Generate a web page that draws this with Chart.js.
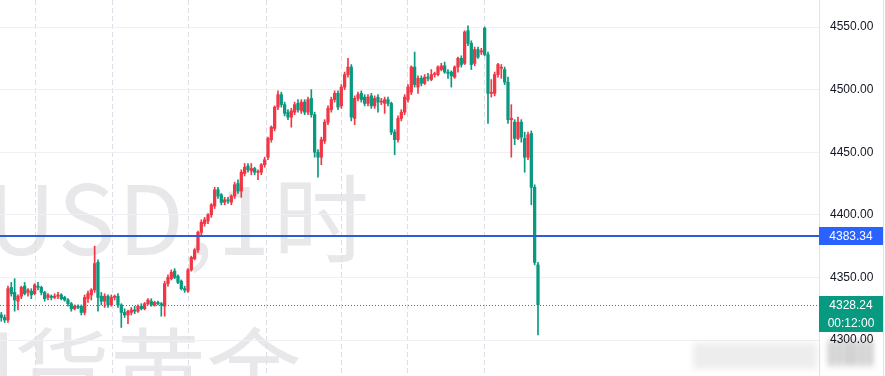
<!DOCTYPE html>
<html><head><meta charset="utf-8">
<script src="https://cdn.jsdelivr.net/npm/chart.js@4.4.1/dist/chart.umd.min.js"></script>
<style>html,body{margin:0;padding:0;background:#fff;overflow:hidden}#wrap{position:relative;width:885px;height:376px}canvas{display:block}</style>
</head><body><div id="wrap"><canvas id="c" width="885" height="376"></canvas></div>
<script>
// ---- data (hourly candles) ----
const opens=[4320,4318,4316,4342,4338,4331,4335,4343,4338,4339,
4337,4343,4342,4338,4334,4335,4334,4335,4336,4334,
4332,4329,4325,4327,4327,4322,4333,4336,4340,4362,
4335,4331,4335,4328,4334,4335,4328,4322,4320,4322,
4324,4323,4327,4325,4329,4331,4328,4330,4329,4327,
4345,4349,4355,4351,4347,4341,4339,4356,4365,4372,
4386,4393,4395,4400,4407,4420,4416,4410,4412,4410,
4415,4425,4419,4433,4439,4435,4437,4434,4434,4440,
4446,4460,4469,4486,4496,4488,4482,4478,4482,4489,
4483,4490,4482,4493,4480,4450,4446,4459,4474,4484,
4492,4497,4487,4502,4512,4518,4477,4493,4497,4494,
4489,4495,4487,4494,4490,4489,4492,4489,4466,4460,
4477,4482,4492,4498,4518,4502,4509,4505,4510,4508,
4512,4512,4516,4519,4514,4514,4510,4518,4525,4521,
4547,4537,4521,4532,4530,4549,4528,4497,4497,4512,
4517,4516,4506,4476,4474,4461,4474,4461,4446,4465,
4422,4360];
const highs=[4322,4320,4343,4346,4349,4336,4343,4346,4341,4341,
4345,4346,4343,4339,4337,4336,4337,4338,4337,4335,
4333,4330,4328,4328,4328,4336,4339,4341,4375,4364,
4338,4337,4336,4336,4336,4337,4329,4325,4324,4326,
4327,4328,4329,4330,4333,4333,4331,4331,4330,4347,
4352,4356,4357,4352,4348,4343,4357,4367,4373,4387,
4396,4398,4401,4409,4422,4422,4417,4414,4414,4416,
4426,4428,4436,4441,4441,4441,4438,4436,4441,4446,
4462,4471,4487,4499,4498,4490,4484,4485,4490,4492,
4492,4492,4494,4500,4482,4452,4462,4476,4487,4494,
4499,4499,4504,4514,4525,4520,4495,4498,4499,4496,
4496,4497,4495,4496,4493,4494,4494,4490,4468,4479,
4484,4496,4504,4519,4530,4511,4511,4512,4513,4516,
4514,4519,4521,4522,4516,4515,4519,4526,4527,4547,
4551,4539,4534,4534,4533,4550,4530,4508,4514,4521,
4520,4518,4510,4488,4476,4478,4476,4466,4466,4467,
4424,4362];
const lows=[4315,4314,4314,4335,4323,4324,4333,4336,4335,4333,
4336,4340,4336,4331,4332,4332,4333,4333,4332,4331,
4327,4323,4324,4325,4320,4320,4330,4332,4338,4323,
4328,4326,4326,4327,4332,4326,4310,4318,4313,4320,
4321,4322,4324,4324,4328,4327,4327,4328,4319,4319,
4343,4348,4349,4345,4340,4338,4338,4355,4364,4370,
4383,4391,4393,4398,4405,4413,4408,4408,4409,4408,
4413,4417,4414,4431,4434,4432,4432,4428,4432,4438,
4444,4458,4467,4484,4486,4479,4476,4470,4480,4482,
4481,4480,4480,4478,4446,4430,4440,4457,4472,4482,
4490,4484,4485,4500,4510,4475,4472,4491,4490,4487,
4487,4485,4485,4482,4488,4481,4487,4464,4448,4458,
4475,4480,4490,4496,4502,4497,4503,4504,4507,4507,
4510,4511,4515,4513,4509,4502,4509,4514,4518,4520,
4535,4516,4519,4525,4528,4527,4473,4494,4495,4510,
4509,4504,4473,4446,4456,4460,4458,4434,4444,4408,
4360,4304];
const closes=[4318,4316,4341,4337,4332,4335,4342,4337,4340,4336,
4344,4342,4338,4333,4336,4334,4335,4336,4333,4332,
4329,4325,4327,4326,4322,4334,4337,4340,4361,4334,
4331,4335,4328,4334,4335,4328,4322,4320,4323,4324,
4323,4327,4325,4329,4332,4328,4330,4329,4328,4345,
4350,4354,4350,4346,4341,4340,4356,4366,4372,4386,
4394,4396,4400,4408,4420,4415,4410,4412,4411,4415,
4424,4419,4434,4438,4436,4437,4434,4434,4440,4444,
4461,4470,4486,4496,4488,4481,4478,4483,4488,4484,
4490,4482,4492,4480,4450,4446,4460,4474,4485,4492,
4497,4486,4502,4512,4518,4478,4493,4496,4492,4489,
4494,4487,4493,4490,4490,4492,4489,4466,4460,4477,
4482,4494,4502,4518,4504,4509,4505,4510,4509,4512,
4512,4518,4519,4514,4513,4511,4518,4525,4520,4546,
4537,4520,4532,4526,4531,4528,4497,4497,4512,4520,
4517,4506,4476,4477,4461,4474,4462,4446,4464,4422,
4362,4328.24];
const yTicks=[4300,4350,4400,4450,4500,4550];
const sessionLines=[10.4,33.5,56.3,79.7,102.2,122.0,145.1]; // candle index of day separators
const markedLevel=4383.34;
const lastPrice=4328.24;
const countdown='00:12:00';
const watermark1='XAUUSD,1时';
const watermark2='期货黄金';

const UP='#F23645', DOWN='#089981';
const colors=closes.map((c,i)=>c>=opens[i]?UP:DOWN);

const bgPlugin={id:'bg',beforeDraw(chart){
  const ctx=chart.ctx;ctx.save();
  ctx.fillStyle='#ffffff';ctx.fillRect(0,0,chart.width,chart.height);
  ctx.fillStyle='rgba(110,114,128,0.16)';
  ctx.font='96px "Noto Sans CJK SC", "Noto Sans", sans-serif';
  ctx.textAlign='right';ctx.textBaseline='alphabetic';
  ctx.letterSpacing='3px';
  ctx.fillText(watermark1,372,255);
  ctx.letterSpacing='0px';
  ctx.fillText(watermark2,302,408);
  ctx.restore();
}};
const overlayPlugin={id:'ov',
 afterDatasetsDraw(chart){
  const ctx=chart.ctx,a=chart.chartArea,y=chart.scales.y;
  ctx.save();
  const yl=Math.round(y.getPixelForValue(markedLevel));
  ctx.strokeStyle='#2f5cd6';ctx.lineWidth=2;
  ctx.beginPath();ctx.moveTo(a.left,yl);ctx.lineTo(a.right,yl);ctx.stroke();
  const yp=Math.round(y.getPixelForValue(lastPrice))+0.5;
  ctx.strokeStyle=DOWN;ctx.lineWidth=1;ctx.setLineDash([1,2]);
  ctx.beginPath();ctx.moveTo(a.left,yp);ctx.lineTo(a.right,yp);ctx.stroke();
  ctx.restore();
 },
 afterDraw(chart){
  const ctx=chart.ctx,a=chart.chartArea,y=chart.scales.y;
  ctx.save();
  // blurred patch bottom-right
  ctx.filter='blur(3px)';
  ctx.fillStyle='rgba(0,0,0,0.07)';ctx.fillRect(693,343,124,26);
  ctx.fillStyle='rgba(0,0,0,0.32)';
  [829,837,845,852,860,868].forEach(x=>ctx.fillRect(x,340,4,26));
  ctx.filter='none';
  // right edge line
  ctx.fillStyle='#e0e3eb';ctx.fillRect(883,0,1,chart.height);
  const cx=(a.right+883)/2;
  ctx.font='12px "Liberation Sans", Arial, sans-serif';
  ctx.textAlign='center';ctx.textBaseline='middle';
  const yl=Math.round(y.getPixelForValue(markedLevel));
  ctx.fillStyle='#2962ff';ctx.fillRect(a.right,yl-9,883-a.right,18);
  ctx.fillStyle='#fff';ctx.fillText(markedLevel.toFixed(2),cx,yl+1);
  const yp=Math.round(y.getPixelForValue(lastPrice));
  ctx.fillStyle=DOWN;ctx.fillRect(a.right,yp-9,883-a.right,36);
  ctx.fillStyle='#fff';ctx.fillText(lastPrice.toFixed(2),cx,yp+1);
  ctx.fillText(countdown,cx,yp+19);
  ctx.restore();
 }};

new Chart(document.getElementById('c'),{
 type:'bar',
 data:{datasets:[
  {label:'body',data:opens.map((o,i)=>({x:i,y:[o,closes[i]]})),backgroundColor:colors,
   barThickness:2.6,minBarLength:1,grouped:false,order:1,borderWidth:0},
  {label:'wick',data:highs.map((h,i)=>({x:i,y:[lows[i],h]})),backgroundColor:colors,
   barThickness:1,grouped:false,order:2,borderWidth:0}
 ]},
 options:{responsive:false,animation:false,devicePixelRatio:1,
  layout:{padding:0},
  plugins:{legend:{display:false},tooltip:{enabled:false}},
  scales:{
   x:{type:'linear',min:-0.39,max:245.3,offset:false,
    afterBuildTicks:s=>{s.ticks=sessionLines.map(v=>({value:v}));},
    afterFit:s=>{s.height=0;s.paddingLeft=0;s.paddingRight=0;},
    ticks:{display:false},
    grid:{color:'#dcdfe6',lineWidth:1,drawTicks:false,offset:false},
    border:{display:false,dash:[5,3]}},
   y:{position:'right',min:4271.25,max:4571.57,
    afterBuildTicks:s=>{s.ticks=yTicks.map(v=>({value:v}));},
    afterFit:s=>{s.width=66;s.paddingTop=0;s.paddingBottom=0;},
    ticks:{callback:v=>Number(v).toFixed(2),color:'#131722',padding:11,crossAlign:'near',
     font:{size:12,family:'"Liberation Sans", Arial, sans-serif'}},
    grid:{color:'#eef0f4',drawTicks:false},
    border:{display:true,color:'#e0e3eb'}}
  }},
 plugins:[bgPlugin,overlayPlugin]
});
</script></body></html>
